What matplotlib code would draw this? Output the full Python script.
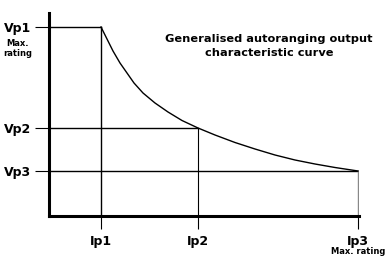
import matplotlib
matplotlib.use('Agg')
import matplotlib.pyplot as plt

# positions of the operating points (arbitrary units)
ip_labels = ['Ip1', 'Ip2', 'Ip3']
ip_vals = [52, 149, 309]
vp_labels = ['Vp1', 'Vp2', 'Vp3']
vp_vals = [189, 88, 45]

# constant power part of the curve
curve_i = [52, 57, 64, 71, 78, 85, 94, 106, 119, 133, 149, 166, 186, 206,
           226, 246, 266, 286, 309]
curve_v = [189, 179, 165, 153, 143, 133, 123, 113, 104, 95.5, 88, 81, 73.5,
           67, 61, 56, 52, 48.5, 45]

title = 'Generalised autoranging output\ncharacteristic curve'

plt.rcParams['font.family'] = ['DejaVu Sans']

fig = plt.figure(figsize=(3.85, 2.59), dpi=100)
ax = fig.add_axes([49 / 385, 43 / 259, 310 / 385, 203 / 259])
ax.set_xlim(0, 310)
ax.set_ylim(0, 203)

for s in ['top', 'right']:
    ax.spines[s].set_visible(False)
for s in ['left', 'bottom']:
    ax.spines[s].set_linewidth(2.2)

# guide lines
ax.plot([0, ip_vals[0]], [vp_vals[0], vp_vals[0]], color='black', lw=1.0)
ax.plot([0, ip_vals[1]], [vp_vals[1], vp_vals[1]], color='black', lw=1.0)
ax.plot([0, ip_vals[2]], [vp_vals[2], vp_vals[2]], color='black', lw=1.0)
ax.plot([ip_vals[0], ip_vals[0]], [0, vp_vals[0]], color='black', lw=1.0)
ax.plot([ip_vals[1], ip_vals[1]], [0, vp_vals[1]], color='black', lw=0.8)
ax.plot([ip_vals[2], ip_vals[2]], [0, vp_vals[2]], color='#888888', lw=1.0)

ax.plot(curve_i, curve_v, color='black', lw=1.0, solid_joinstyle='round')

ax.set_xticks(ip_vals)
ax.set_xticklabels(ip_labels, fontsize=9, fontweight='bold')
ax.set_yticks(vp_vals)
ax.set_yticklabels(vp_labels, fontsize=9, fontweight='bold')
ax.tick_params(axis='x', length=9, width=0.8, pad=5)
ax.tick_params(axis='y', length=10, width=0.8, pad=3)

ax.text(-31, vp_vals[0] - 12, 'Max.\nrating', fontsize=6, fontweight='bold',
        ha='center', va='top', linespacing=1.1, clip_on=False)
ax.text(ip_vals[2], -31, 'Max. rating', fontsize=6, fontweight='bold',
        ha='center', va='top', clip_on=False)

ax.text(220, 170, title, fontsize=8.2, fontweight='bold', ha='center',
        va='center', linespacing=1.45)

fig.savefig('out.png', dpi=100)
